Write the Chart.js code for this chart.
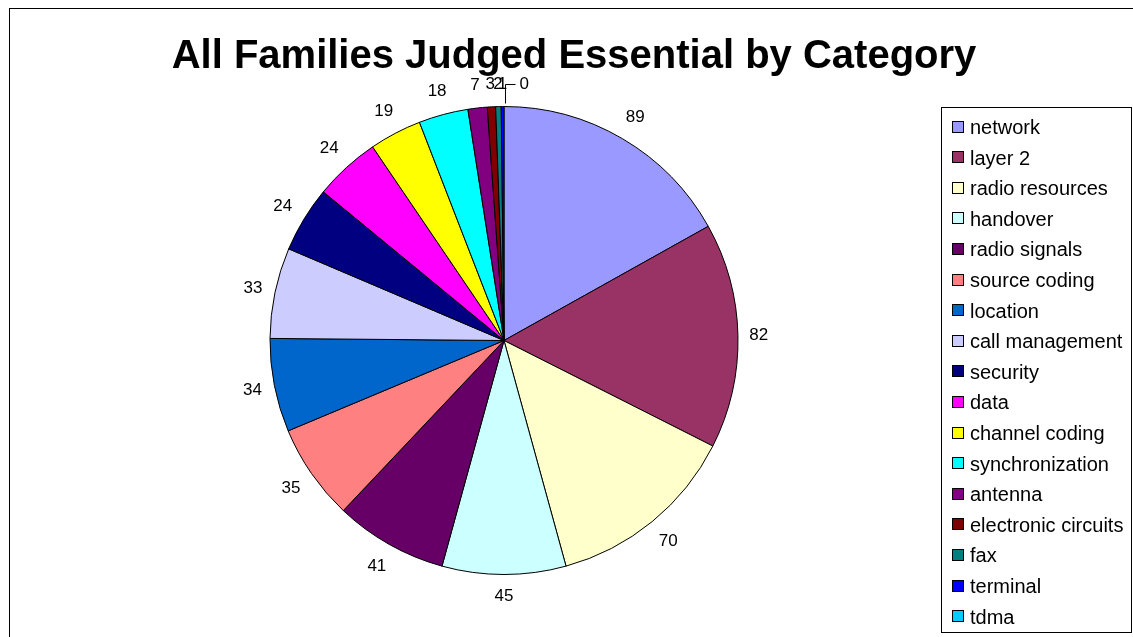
<!DOCTYPE html>
<html>
<head>
<meta charset="utf-8">
<script src="https://cdn.jsdelivr.net/npm/chart.js@4/dist/chart.umd.min.js"></script>
<style>
  html, body { margin: 0; padding: 0; background: #fff; }
  #wrap { width: 1133px; height: 637px; position: relative; }
</style>
</head>
<body>
<div id="wrap"><canvas id="c" width="1133" height="637"></canvas></div>
<script>
// Categories and family counts, in the order the slices run clockwise from 12 o'clock
const categories = [
  'network', 'layer 2', 'radio resources', 'handover', 'radio signals',
  'source coding', 'location', 'call management', 'security', 'data',
  'channel coding', 'synchronization', 'antenna', 'electronic circuits',
  'fax', 'terminal', 'tdma'
];
const families = [89, 82, 70, 45, 41, 35, 34, 33, 24, 24, 19, 18, 7, 3, 2, 1, 0];
const sliceColors = [
  '#9999FF', '#993366', '#FFFFCC', '#CCFFFF', '#660066',
  '#FF8080', '#0066CC', '#CCCCFF', '#000080', '#FF00FF',
  '#FFFF00', '#00FFFF', '#800080', '#800000', '#008080',
  '#0000FF', '#00CCFF'
];
const chartTitle = 'All Families Judged Essential by Category';

const FONT = '"Liberation Sans", Arial, sans-serif';

// Outer frame and title
const framePlugin = {
  id: 'frame',
  beforeDraw(chart) {
    const ctx = chart.ctx;
    ctx.save();
    ctx.fillStyle = '#fff';
    ctx.fillRect(0, 0, chart.width, chart.height);
    ctx.strokeStyle = '#000';
    ctx.lineWidth = 1;
    ctx.strokeRect(9.5, 8.5, chart.width + 20, chart.height + 20);
    ctx.fillStyle = '#000';
    ctx.font = 'bold 40px ' + FONT;
    ctx.textAlign = 'center';
    ctx.textBaseline = 'alphabetic';
    ctx.fillText(chartTitle, 574, 68);
    ctx.restore();
  }
};

// Value labels outside each slice; the label box sits just beyond the rim,
// and the empty slice gets a leader line
const valueLabels = {
  id: 'valueLabels',
  afterDatasetsDraw(chart) {
    const ctx = chart.ctx;
    const meta = chart.getDatasetMeta(0);
    const vals = chart.data.datasets[0].data;
    ctx.save();
    ctx.font = '17px ' + FONT;
    ctx.fillStyle = '#000';
    ctx.textBaseline = 'middle';
    meta.data.forEach((arc, i) => {
      const p = arc.getProps(['x', 'y', 'startAngle', 'endAngle', 'outerRadius'], true);
      const mid = (p.startAngle + p.endAngle) / 2;
      const txt = String(vals[i]);
      if (vals[i] === 0) {
        const x0 = Math.round(p.x + p.outerRadius * Math.cos(mid)) + 1.5;
        const y0 = p.y + p.outerRadius * Math.sin(mid) - 3;
        ctx.strokeStyle = '#000';
        ctx.lineWidth = 1;
        ctx.beginPath();
        ctx.moveTo(x0, y0);
        ctx.lineTo(x0, Math.round(y0 - 20) + 0.5);
        ctx.lineTo(x0 + 10, Math.round(y0 - 20) + 0.5);
        ctx.stroke();
        ctx.textAlign = 'left';
        ctx.fillText(txt, x0 + 14, y0 - 19);
        return;
      }
      const ux = Math.cos(mid), uy = Math.sin(mid);
      const halfW = ctx.measureText(txt).width / 2, halfH = 11;
      const r = p.outerRadius + 11 + halfW * Math.abs(ux) + halfH * Math.abs(uy);
      ctx.textAlign = 'center';
      ctx.fillText(txt, p.x + r * ux, p.y + r * uy);
    });
    ctx.restore();
  }
};

// Boxed legend on the right
const boxLegend = {
  id: 'boxLegend',
  afterDraw(chart) {
    const ctx = chart.ctx;
    const left = 941.5, top = 107.5, w = 190, h = 525;
    ctx.save();
    ctx.strokeStyle = '#000';
    ctx.lineWidth = 1;
    ctx.fillStyle = '#fff';
    ctx.fillRect(left, top, w, h);
    ctx.strokeRect(left, top, w, h);
    ctx.font = '20px ' + FONT;
    ctx.textBaseline = 'middle';
    ctx.textAlign = 'left';
    const step = 30.6;
    chart.data.labels.forEach((lab, i) => {
      const cy = 127.5 + i * step;
      const sy = Math.round(cy) - 6.5;
      ctx.fillStyle = chart.data.datasets[0].backgroundColor[i];
      ctx.fillRect(952.5, sy, 11, 11);
      ctx.strokeStyle = '#000';
      ctx.strokeRect(952.5, sy, 11, 11);
      ctx.fillStyle = '#000';
      ctx.fillText(lab, 970, cy + 1);
    });
    ctx.restore();
  }
};

new Chart(document.getElementById('c'), {
  type: 'pie',
  data: {
    labels: categories,
    datasets: [{
      data: families,
      backgroundColor: sliceColors,
      borderColor: '#000',
      borderWidth: 1,
      hoverOffset: 0,
      borderAlign: 'center'
    }]
  },
  options: {
    responsive: false,
    animation: false,
    radius: 234,
    layout: { padding: { top: 106, bottom: 62, left: 204, right: 329 } },
    plugins: {
      legend: { display: false },
      title: { display: false },
      tooltip: { enabled: false }
    }
  },
  plugins: [framePlugin, valueLabels, boxLegend]
});
</script>
</body>
</html>
